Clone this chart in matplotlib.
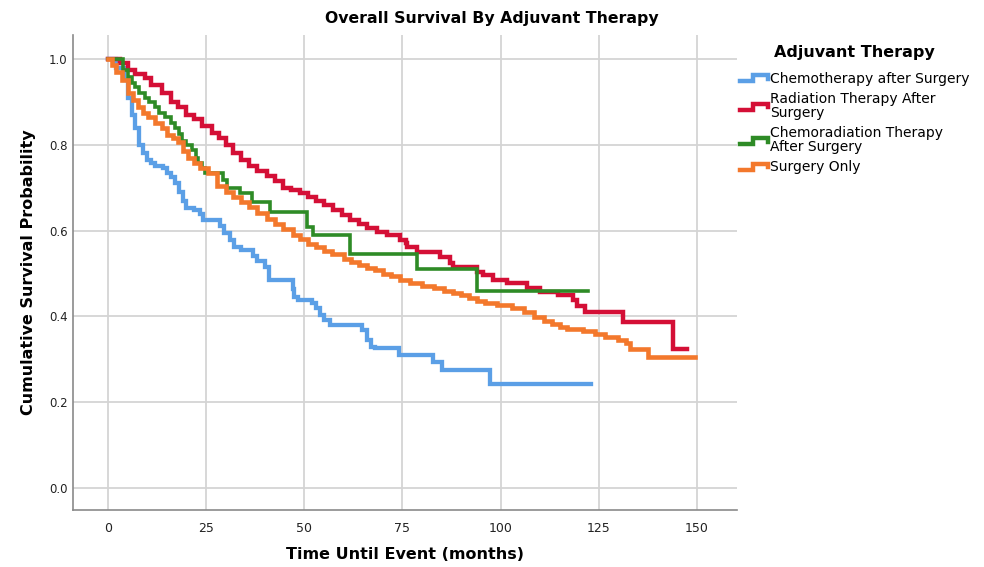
import matplotlib
matplotlib.use("Agg")
import matplotlib.pyplot as plt
from matplotlib.lines import Line2D
from matplotlib.legend_handler import HandlerBase

# ---------------- data ----------------
chemo_t = [0, 2, 4, 5, 6, 7, 8, 9, 10, 11, 12, 14, 15, 16, 17, 18, 19, 20, 22, 23.5,
           24.2, 28.6, 29.5, 31, 32, 34, 37, 38, 40, 41, 47, 47.5, 48.5, 52, 53, 54, 55,
           56.5, 64.7, 66, 67, 68, 74, 82.7, 85, 97.3, 123]
chemo_s = [1.0, 0.98, 0.95, 0.91, 0.87, 0.84, 0.80, 0.78, 0.765, 0.757, 0.75, 0.745,
           0.735, 0.725, 0.71, 0.69, 0.67, 0.653, 0.648, 0.64, 0.625, 0.61, 0.595, 0.578,
           0.562, 0.555, 0.54, 0.53, 0.515, 0.485, 0.465, 0.445, 0.438, 0.431, 0.42, 0.403,
           0.392, 0.38, 0.368, 0.345, 0.329, 0.326, 0.31, 0.294, 0.275, 0.242, 0.242]

rad_t = [0, 3, 5, 7, 9.4, 11, 13.7, 16, 17.8, 20, 22, 24, 26.5, 28.3, 30, 31.8, 34, 36,
         38, 40.5, 42.5, 44.6, 46.5, 48.9, 51, 53, 55, 57.3, 59.5, 61.6, 64, 66, 68.5,
         71, 74.4, 76, 76.2, 78.7, 84.6, 87, 88, 94, 95.5, 98, 101.6, 106.7, 110, 114.6,
         118.4, 119.5, 121.5, 131.1, 143.9, 147.4]
rad_s = [1.0, 0.99, 0.975, 0.965, 0.955, 0.94, 0.92, 0.90, 0.888, 0.87, 0.86, 0.845,
         0.827, 0.815, 0.80, 0.78, 0.765, 0.75, 0.74, 0.727, 0.715, 0.70, 0.695, 0.687,
         0.678, 0.67, 0.66, 0.648, 0.636, 0.625, 0.615, 0.606, 0.598, 0.59, 0.578, 0.571,
         0.562, 0.55, 0.538, 0.524, 0.515, 0.503, 0.496, 0.485, 0.478, 0.466, 0.457, 0.45,
         0.438, 0.425, 0.41, 0.387, 0.324, 0.324]

chemorad_t = [0, 3.8, 5, 6, 6.9, 8, 9.4, 10.5, 12, 13, 14.5, 16, 17, 18, 18.8, 20, 21.4,
              22.5, 23, 24, 24.7, 29.3, 30.3, 33.6, 36.7, 41.3, 50.7, 52.2, 61.6, 78.7,
              94, 122.2]
chemorad_s = [1.0, 0.975, 0.958, 0.945, 0.935, 0.92, 0.91, 0.90, 0.888, 0.875, 0.865,
              0.85, 0.84, 0.825, 0.81, 0.80, 0.788, 0.77, 0.757, 0.745, 0.734, 0.718, 0.70,
              0.687, 0.667, 0.643, 0.608, 0.59, 0.546, 0.51, 0.46, 0.46]

surg_t = [0, 1, 2, 3.6, 5, 6.3, 7.6, 9, 10.2, 12, 13.7, 15, 16.5, 17.8, 19, 20.5, 22,
          23.4, 25.5, 27.7, 30, 31.8, 34, 36, 38, 40.5, 42.5, 44.6, 47, 49, 51, 53, 55,
          57, 60, 62, 64, 66, 68, 70, 72, 74.5, 77, 80, 83, 85.6, 88, 90, 92, 94, 96, 99,
          103, 106, 108.5, 111, 113, 115, 117, 121, 124, 126.5, 130, 132, 133, 137.5, 149.5]
surg_s = [1.0, 0.985, 0.97, 0.95, 0.92, 0.905, 0.888, 0.875, 0.865, 0.85, 0.84, 0.822,
          0.815, 0.806, 0.785, 0.77, 0.757, 0.745, 0.735, 0.705, 0.69, 0.678, 0.667,
          0.655, 0.642, 0.628, 0.615, 0.603, 0.59, 0.58, 0.57, 0.562, 0.553, 0.546, 0.535,
          0.528, 0.52, 0.514, 0.508, 0.50, 0.494, 0.485, 0.478, 0.472, 0.466, 0.46, 0.455,
          0.45, 0.442, 0.436, 0.432, 0.427, 0.42, 0.41, 0.398, 0.39, 0.382, 0.375, 0.37,
          0.366, 0.36, 0.352, 0.345, 0.338, 0.324, 0.305, 0.305]

group_labels = ["Chemotherapy after Surgery", "Radiation Therapy After\nSurgery",
                "Chemoradiation Therapy\nAfter Surgery", "Surgery Only"]
x_ticks = [0, 25, 50, 75, 100, 125, 150]
y_ticks = [0.0, 0.2, 0.4, 0.6, 0.8, 1.0]

colors = ["#5b9fe6", "#d40f36", "#2e8b26", "#f3782c"]
widths = [3.1, 3.2, 2.6, 3.3]

# ---------------- figure ----------------
fig = plt.figure(figsize=(9.84, 5.67), dpi=100)
ax = fig.add_axes([73 / 984, 1 - 510 / 567, (737 - 73) / 984, (510 - 35) / 567])

series = [(chemo_t, chemo_s), (rad_t, rad_s), (chemorad_t, chemorad_s), (surg_t, surg_s)]
handles = []
for (t, s), c, lw, lab in zip(series, colors, widths, group_labels):
    ln, = ax.step(t, s, where="post", color=c, lw=lw, label=lab,
                  solid_joinstyle="miter", zorder=3)
    handles.append(ln)

ax.set_xlim(-8.9, 160.2)
ax.set_ylim(-0.051, 1.056)
ax.set_xticks(x_ticks)
ax.set_yticks(y_ticks)
ax.set_xticklabels([str(v) for v in x_ticks], fontsize=9, color="#222222")
ax.set_yticklabels([f"{v:.1f}" for v in y_ticks], fontsize=8.5, color="#222222")
ax.tick_params(axis="x", length=0, pad=9)
ax.tick_params(axis="y", length=0, pad=4)
ax.grid(True, color="#d4d4d4", lw=1.3)
ax.set_axisbelow(True)
for sp in ["top", "right"]:
    ax.spines[sp].set_visible(False)
for sp in ["left", "bottom"]:
    ax.spines[sp].set_color("#8a8a8a")
    ax.spines[sp].set_linewidth(1.2)

ax.set_xlabel("Time Until Event (months)", fontsize=11.5, fontweight="bold",
              labelpad=8)
ax.set_ylabel("Cumulative Survival Probability", fontsize=11.5, fontweight="bold",
              labelpad=9)
fig.text(492 / 984, 1 - 19 / 567, "Overall Survival By Adjuvant Therapy",
         ha="center", va="center", fontsize=11.3, fontweight="bold")


class StepHandler(HandlerBase):
    def create_artists(self, legend, orig_handle, xdescent, ydescent, width, height,
                       fontsize, trans):
        x0 = -xdescent
        y0 = -ydescent
        xs = [x0, x0 + 0.45 * width, x0 + 0.45 * width, x0 + 0.97 * width, x0 + 0.97 * width]
        ys = [y0 + 0.15 * height, y0 + 0.15 * height, y0 + 0.75 * height,
              y0 + 0.75 * height, y0 + 0.4 * height]
        l = Line2D(xs, ys, color=orig_handle.get_color(), lw=3.2,
                   solid_joinstyle="miter", transform=trans)
        return [l]


leg = fig.legend(handles=handles, labels=group_labels,
                 handler_map={Line2D: StepHandler()},
                 loc="upper left", bbox_to_anchor=(727 / 984, 1 - 33 / 567),
                 frameon=False, fontsize=10, handlelength=2.1, handletextpad=0.1,
                 labelspacing=0.45, title="Adjuvant Therapy",
                 title_fontproperties={"weight": "bold", "size": 11.5})
for txt in leg.get_texts():
    txt.set_linespacing(1.0)
try:
    leg._legend_box.sep = 8
except Exception:
    pass

fig.savefig("out.png", dpi=100)
